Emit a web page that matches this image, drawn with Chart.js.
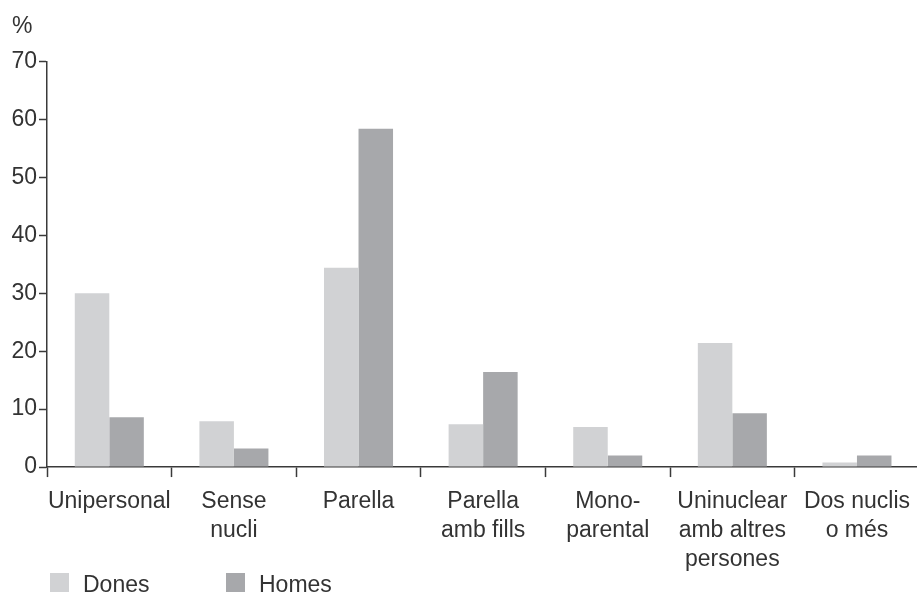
<!DOCTYPE html>
<html>
<head>
<meta charset="utf-8">
<script src="https://cdn.jsdelivr.net/npm/chart.js@4"></script>
<style>
  html, body { margin: 0; padding: 0; background: #fff; overflow: hidden; }
  #wrap { width: 917px; height: 593px; overflow: hidden; }
</style>
</head>
<body>
<div id="wrap"><canvas id="grafic" width="920" height="605"></canvas></div>
<script>
const categories = [
  'Unipersonal',
  ['Sense', 'nucli'],
  'Parella',
  ['Parella', 'amb fills'],
  ['Mono-', 'parental'],
  ['Uninuclear', 'amb altres', 'persones'],
  ['Dos nuclis', 'o més']
];
const dones = [30.0, 7.9, 34.4, 7.4, 6.9, 21.4, 0.8];
const homes = [8.6, 3.2, 58.4, 16.4, 2.0, 9.3, 2.0];
const yTicks = [0, 10, 20, 30, 40, 50, 60, 70];

const textColor = '#333333';
const axisColor = '#3a3a3a';
const fontFamily = '"Liberation Sans", Arial, sans-serif';

// llegenda a mida, a sota a l'esquerra
const llegenda = {
  id: 'llegenda',
  afterDraw(chart, args, opts) {
    const ctx = chart.ctx;
    ctx.save();
    ctx.font = '23px ' + fontFamily;
    ctx.textBaseline = 'middle';
    chart.data.datasets.forEach((ds, i) => {
      const x = opts.xs[i];
      const y = opts.y;
      ctx.fillStyle = ds.backgroundColor;
      ctx.fillRect(x, y, 19, 19);
      ctx.fillStyle = textColor;
      ctx.fillText(ds.label, x + 33, y + 13);
    });
    ctx.restore();
  }
};

let grafic = document.getElementById('grafic').getContext('2d');
let chart = new Chart(grafic, {
  type: 'bar',
  data: {
    labels: categories,
    datasets: [
      {
        label: 'Dones',
        data: dones,
        backgroundColor: '#d1d2d4',
        borderWidth: 0,
        categoryPercentage: 0.554,
        barPercentage: 1
      },
      {
        label: 'Homes',
        data: homes,
        backgroundColor: '#a7a8ab',
        borderWidth: 0,
        categoryPercentage: 0.554,
        barPercentage: 1
      }
    ]
  },
  options: {
    responsive: false,
    animation: false,
    layout: { padding: { left: 12, right: 0, top: 0, bottom: 21 } },
    plugins: {
      legend: { display: false },
      tooltip: { enabled: false },
      title: {
        display: true,
        text: '%',
        align: 'start',
        color: textColor,
        font: { family: fontFamily, size: 23, weight: 'normal' },
        padding: { top: 13, bottom: 21 }
      },
      llegenda: { xs: [50, 226], y: 573 }
    },
    scales: {
      x: {
        grid: {
          display: true,
          offset: true,
          drawOnChartArea: false,
          drawTicks: true,
          tickLength: 10,
          tickWidth: 1.5,
          tickColor: axisColor
        },
        border: { display: true, color: axisColor, width: 1.5 },
        ticks: {
          color: textColor,
          padding: 10,
          maxRotation: 0,
          autoSkip: false,
          font: { family: fontFamily, size: 23, lineHeight: 1.26 }
        }
      },
      y: {
        min: 0,
        max: 70,
        afterBuildTicks(axis) {
          axis.ticks = yTicks.map(v => ({ value: v }));
        },
        afterFit(axis) {
          axis.width = 35;
        },
        grid: {
          display: true,
          drawOnChartArea: false,
          drawTicks: true,
          tickLength: 8,
          tickWidth: 1.5,
          tickColor: axisColor
        },
        border: { display: true, color: axisColor, width: 1.5 },
        ticks: {
          color: textColor,
          padding: 2,
          font: { family: fontFamily, size: 23 }
        }
      }
    }
  },
  plugins: [llegenda]
});
</script>
</body>
</html>
